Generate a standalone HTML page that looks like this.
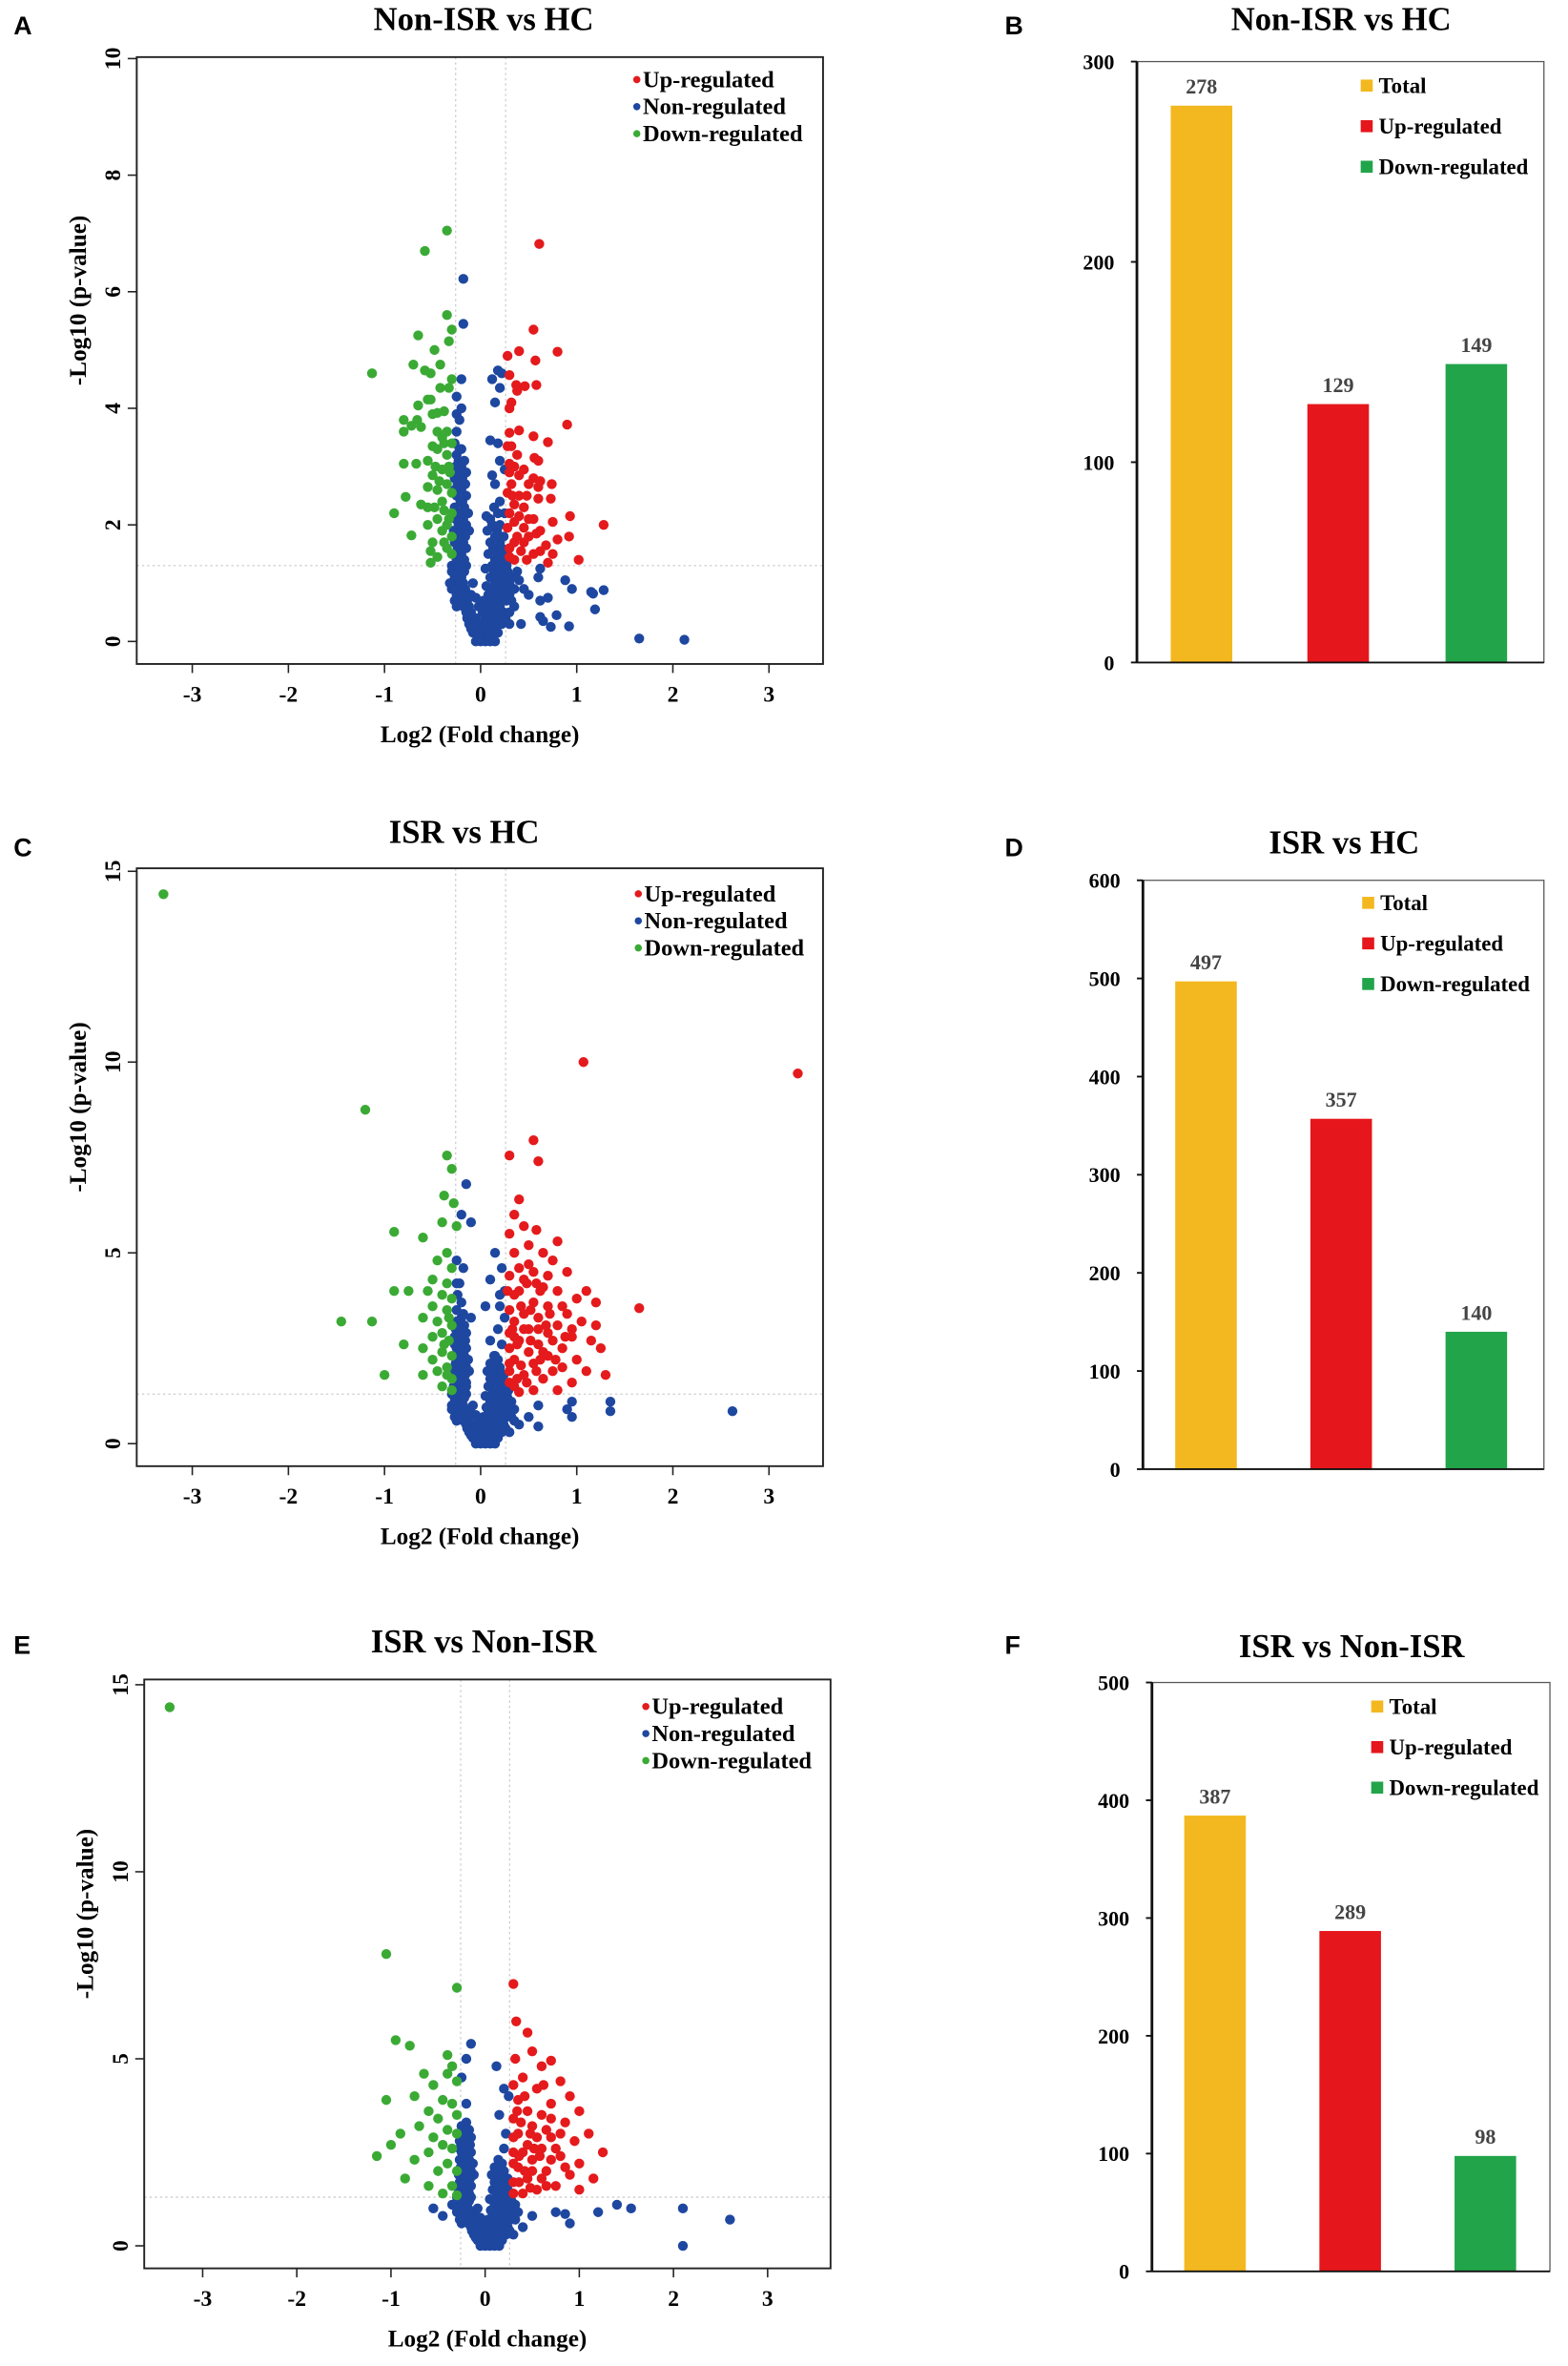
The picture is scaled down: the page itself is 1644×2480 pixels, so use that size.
<!DOCTYPE html>
<html><head><meta charset="utf-8"><style>
html,body{margin:0;padding:0;background:#fff;}
svg{display:block;}
text{font-family:"Liberation Serif",serif;font-weight:bold;}
.lt{font-family:"Liberation Sans",sans-serif;font-weight:bold;}
</style></head><body>
<svg id="fig" xmlns="http://www.w3.org/2000/svg" width="1644" height="2480" viewBox="0 0 1044 1575"></svg>
<script>
// ---------- shared data ----------
const coreBlob=[0,0,-0.05,0,0.05,0,0.1,0,0.15,0,-0.08,0.15,-0.02,0.15,0.04,0.15,0.12,0.15,0.18,0.15,-0.12,0.3,-0.06,0.3,0.02,0.3,0.08,0.3,0.15,0.3,0.22,0.3,-0.15,0.5,-0.1,0.5,0.1,0.5,0.16,0.5,0.24,0.5,-0.2,0.7,-0.14,0.7,0.12,0.7,0.2,0.7,0.27,0.7,-0.23,0.9,-0.16,0.9,0.13,0.9,0.2,0.9,0.28,0.9,-0.27,1.1,-0.2,1.1,0.1,1.1,0.18,1.1,0.25,1.1,0.32,1.1,-0.3,1.3,-0.22,1.3,-0.15,1.3,0.12,1.3,0.2,1.3,0.27,1.3,-0.28,1.5,-0.2,1.5,0.08,1.5,0.18,1.5,0.24,1.5,-0.27,1.7,-0.18,1.7,0.1,1.7,0.2,1.7,-0.28,1.9,-0.2,1.9,-0.12,1.9,0.07,1.9,0.17,1.9,-0.26,2.1,-0.18,2.1,0.1,2.1,-0.27,2.3,-0.17,2.3,0.14,2.3,-0.25,2.5,-0.15,2.5,-0.24,2.7,-0.16,2.7,-0.22,2.9,-0.15,2.9,-0.23,3.1,-0.17,3.1,-0.2,3.3,-0.3,1.0,0.35,0.9,-0.1,0.8,0.08,0.8,-0.05,0.4,0.05,0.6,-0.2,1.2,0.22,1.2,0.3,0.3,-0.25,0.6];
const coreFill=[-0.03,0.08,0.08,0.08,-0.1,0.22,0,0.22,0.08,0.22,0.15,0.22,-0.14,0.4,-0.08,0.4,0.05,0.4,0.12,0.4,0.19,0.4,0.26,0.4,-0.18,0.6,-0.12,0.6,0.08,0.6,0.14,0.6,0.2,0.6,-0.21,0.8,-0.15,0.8,-0.25,0.8,0.16,0.8,0.24,0.8,0.3,0.8,-0.24,1.0,-0.18,1.0,0.15,1.0,0.22,1.0,0.3,1.0,-0.27,1.2,-0.17,1.2,0.14,1.2,0.28,1.2,-0.25,1.4,-0.17,1.4,0.15,1.4,0.22,1.4,0.29,1.4,-0.24,1.6,-0.15,1.6,0.13,1.6,0.22,1.6,-0.24,1.8,-0.16,1.8,0.15,1.8,0.24,1.8,-0.23,2.0,-0.15,2.0,0.12,2.0,0.2,2.0,-0.22,2.2,-0.13,2.2,0.18,2.2,-0.21,2.4,-0.19,2.4,-0.2,2.6,-0.27,2.6,-0.19,2.8,-0.27,2.8,-0.2,3.0,-0.26,3.0,-0.25,3.2,-0.3,0.9,0.33,0.9,0.32,0.7,-0.27,0.7,0.02,0.5,-0.02,0.6,0.03,0.7,-0.05,0.75,0.06,0.95,-0.08,1.0,0.05,1.25];

// Panel A
const aGreen=[-0.35,7.05,-0.58,6.7,-0.35,5.6,-0.3,5.35,-0.65,5.25,-0.33,5.15,-0.48,5.0,-1.13,4.6,-0.7,4.75,-0.42,4.75,-0.58,4.65,-0.52,4.6,-0.3,4.5,-0.42,4.35,-0.33,4.35,-0.55,4.15,-0.52,4.15,-0.65,4.05,-0.45,3.92,-0.5,3.9,-0.38,3.95,-0.8,3.8,-0.66,3.8,-0.72,3.7,-0.62,3.68,-0.8,3.6,-0.45,3.6,-0.35,3.6,-0.4,3.5,-0.5,3.35,-0.3,3.4,-0.45,3.3,-0.35,3.2,-0.8,3.05,-0.67,3.05,-0.55,3.1,-0.47,3.0,-0.4,2.95,-0.32,2.9,-0.5,2.85,-0.43,2.75,-0.35,2.7,-0.55,2.65,-0.45,2.6,-0.3,2.55,-0.78,2.48,-0.62,2.35,-0.55,2.3,-0.48,2.3,-0.38,2.25,-0.3,2.2,-0.9,2.2,-0.45,2.1,-0.55,2.0,-0.35,2.0,-0.4,1.9,-0.3,1.8,-0.72,1.82,-0.5,1.7,-0.35,1.6,-0.52,1.55,-0.45,1.45,-0.3,1.5,-0.52,1.35,-0.38,3.4,-0.33,3.0,-0.4,2.4,-0.33,2.1,-0.38,1.7];
const aRed=[0.61,6.82,0.55,5.35,0.8,4.97,0.4,4.98,0.28,4.9,0.57,4.82,0.3,4.57,0.37,4.4,0.46,4.38,0.58,4.4,0.38,4.3,0.32,4.1,0.3,4.0,0.9,3.72,0.3,3.58,0.4,3.62,0.55,3.52,0.7,3.42,0.28,3.35,0.32,3.35,0.56,3.15,0.6,3.1,0.3,3.05,0.35,3.0,0.45,2.95,0.3,2.9,0.4,2.85,0.55,2.8,0.62,2.75,0.74,2.7,0.32,2.7,0.5,2.7,0.6,2.65,0.28,2.55,0.4,2.5,0.6,2.45,0.73,2.45,0.35,2.35,0.45,2.3,0.3,2.2,0.4,2.15,0.5,2.1,0.55,2.1,0.93,2.15,0.35,2.05,0.75,2.05,0.28,1.95,0.45,1.95,0.62,1.9,0.58,1.85,0.38,1.8,0.5,1.8,0.68,1.65,0.8,1.75,0.92,1.8,1.28,2.0,0.3,1.6,0.42,1.55,0.55,1.5,0.62,1.55,0.75,1.5,1.02,1.4,0.35,1.4,0.48,1.4,0.7,1.35,0.3,1.45,0.35,1.7,0.45,1.7,0.33,2.5,0.48,2.5,0.38,3.2];
const aBlue=[-0.18,6.22,-0.18,5.45,-0.2,4.5,0.18,4.65,0.22,4.6,0.12,4.5,0.2,4.35,0.15,4.1,-0.2,4.0,-0.25,4.2,-0.25,3.9,-0.25,3.6,0.1,3.45,0.18,3.4,0.2,3.1,0.25,2.95,0.15,2.7,0.12,2.85,0.2,2.4,0.25,2.2,0.06,2.15,0.12,2.0,0.62,1.25,0.6,1.1,0.88,1.05,0.95,0.9,1.15,0.85,1.17,0.82,1.28,0.88,0.7,0.75,0.62,0.7,0.5,0.8,0.45,0.9,0.4,1.05,1.19,0.55,0.79,0.45,0.62,0.42,0.65,0.35,0.73,0.25,0.92,0.26,0.42,0.3,1.65,0.05,2.12,0.03,0.35,0.6,0.3,0.5,-0.22,3.3,-0.27,3.4,-0.22,3.8,-0.3,1.2,-0.32,1.0,0.38,1.2];

// Panel C
const cGreen=[-3.3,14.4,-1.2,8.75,-0.35,7.55,-0.3,7.2,-0.38,6.5,-0.28,6.3,-0.4,5.8,-0.25,5.7,-0.9,5.55,-0.6,5.4,-0.35,5.0,-0.45,4.8,-0.3,4.6,-0.5,4.3,-0.35,4.2,-0.9,4.0,-0.75,4.0,-0.55,4.0,-0.4,3.9,-0.3,3.8,-0.5,3.6,-0.35,3.5,-1.45,3.2,-1.13,3.2,-0.6,3.3,-0.45,3.2,-0.3,3.1,-0.4,2.9,-0.5,2.8,-0.33,2.7,-0.8,2.6,-0.6,2.5,-0.4,2.4,-0.3,2.3,-0.5,2.2,-0.35,2.0,-0.45,1.9,-1.0,1.8,-0.6,1.8,-0.3,1.7,-0.4,1.5,-0.3,1.4,-0.33,3.3,-0.38,2.6,-0.35,1.8];
const cRed=[1.07,10.0,3.3,9.7,0.55,7.95,0.3,7.55,0.6,7.4,0.4,6.4,0.35,6.0,0.45,5.7,0.58,5.6,0.3,5.5,0.8,5.3,0.5,5.2,0.65,5.0,0.35,5.0,0.75,4.8,0.4,4.6,0.55,4.5,0.9,4.5,0.3,4.4,0.48,4.2,0.65,4.1,0.8,4.0,1.1,4.0,0.35,3.9,1.0,3.8,1.2,3.7,0.55,3.7,1.65,3.55,0.7,3.6,0.3,3.5,0.45,3.4,0.9,3.4,0.6,3.3,1.05,3.2,0.35,3.2,0.8,3.1,1.2,3.1,0.5,3.0,0.7,2.9,0.3,2.9,0.95,2.8,1.15,2.7,0.4,2.7,0.6,2.6,0.85,2.5,0.3,2.5,1.25,2.5,0.5,2.4,0.7,2.3,1.0,2.2,0.35,2.2,0.55,2.1,0.85,2.0,1.1,1.9,0.3,1.9,0.45,1.8,0.65,1.7,0.95,1.6,0.35,1.5,0.55,1.4,0.8,1.4,1.3,1.8,0.4,1.35,0.3,1.6,0.42,2.05,0.38,2.6,0.45,3.0,0.52,3.5,0.62,2.2,0.75,2.7,0.48,1.6,0.58,1.9,0.68,3.1,0.28,4.0,0.33,3.0,0.4,4.0,0.5,4.7,0.62,4.0,0.85,3.6,0.95,3.0,0.75,1.9,0.3,2.1,0.38,1.7,0.35,2.8,0.42,3.6,0.52,2.7,0.6,3.0,0.65,2.4,0.72,3.4,0.78,2.2,0.88,2.8,0.45,4.3,0.58,4.2,0.7,4.4];
const cBlue=[-0.15,6.8,-0.2,6.0,-0.1,5.8,0.15,5.0,0.22,4.6,-0.18,4.6,-0.22,4.2,0.1,4.3,0.25,4.0,-0.25,4.8,0.2,3.6,-0.2,3.7,-0.25,3.5,0.25,3.3,0.18,3.0,-0.22,3.0,-0.2,2.6,0.22,2.6,0.15,2.3,-0.25,2.3,0.2,1.9,-0.15,1.5,0.18,1.5,1.35,1.1,1.35,0.85,0.95,1.1,0.9,0.9,0.95,0.7,0.6,1.0,0.5,0.7,0.4,0.5,2.62,0.85,0.6,0.45,0.3,1.0,0.35,0.6,-0.25,4.2,-0.1,3.3,0.1,2.7,0.05,3.6,-0.24,3.9,-0.18,3.4,0.2,3.9];

// Panel E
const eGreen=[-3.35,14.4,-1.05,7.8,-0.3,6.9,-0.95,5.5,-0.8,5.35,-0.4,5.1,-0.35,4.8,-0.65,4.6,-0.4,4.6,-0.3,4.4,-0.55,4.3,-1.05,3.9,-0.75,4.0,-0.45,3.9,-0.35,3.8,-0.3,3.5,-0.6,3.6,-0.5,3.4,-0.7,3.2,-0.4,3.1,-0.9,3.0,-0.3,3.0,-0.55,2.9,-0.45,2.7,-1.0,2.7,-0.35,2.6,-0.6,2.5,-1.15,2.4,-0.75,2.3,-0.4,2.2,-0.3,2.0,-0.5,2.0,-0.85,1.8,-0.35,1.6,-0.6,1.6,-0.45,1.4,-0.3,1.35];
const eRed=[0.3,7.0,0.33,6.0,0.45,5.7,0.5,5.2,0.32,5.0,0.7,4.95,0.6,4.8,0.4,4.5,0.8,4.4,0.3,4.3,0.55,4.2,0.9,4.0,0.35,3.9,0.7,3.8,0.45,3.6,1.0,3.6,0.6,3.5,0.3,3.4,0.85,3.3,0.5,3.2,1.1,3.0,0.35,3.0,0.7,2.9,0.95,2.8,0.45,2.7,0.6,2.6,0.3,2.5,1.25,2.5,0.8,2.4,0.5,2.3,1.0,2.2,0.35,2.1,0.65,2.0,0.9,1.9,0.45,1.8,1.15,1.8,0.3,1.7,0.75,1.6,0.55,1.5,1.0,1.5,0.4,1.4,0.3,2.2,0.4,2.5,0.5,2.0,0.6,1.8,0.7,2.3,0.38,3.3,0.55,2.9,0.65,3.1,0.75,2.6,0.85,2.1,0.3,1.4,0.48,1.55,0.58,2.4,0.42,4.0,0.62,4.3,0.8,3.0,0.3,2.9,0.36,1.7,0.36,2.4,0.42,2.0,0.48,3.0,0.52,2.6,0.65,1.6,0.7,3.4,0.34,3.6];
const eBlue=[-0.15,5.4,-0.2,5.0,0.12,4.8,-0.25,4.5,0.2,4.2,0.25,4.0,-0.2,3.8,0.15,3.5,-0.25,3.2,0.22,3.0,-0.22,2.8,0.2,2.6,-0.18,2.4,0.15,2.2,1.4,1.1,1.55,1.0,2.1,1.0,2.6,0.7,2.1,0.0,1.2,0.9,0.85,0.85,0.9,0.6,0.75,0.9,0.5,0.8,-0.55,1.0,-0.45,0.8,0.4,0.5,0.3,1.1,-0.35,1.1];

// Bar data
const barCategories=["Total","Up-regulated","Down-regulated"];
const bValues=[278,129,149];
const dValues=[497,357,140];
const fValues=[387,289,98];
const bTicks=[0,100,200,300];
const dTicks=[0,100,200,300,400,500,600];
const fTicks=[0,100,200,300,400,500];
const volXTicks=[-3,-2,-1,0,1,2,3];
const aYTicks=[0,2,4,6,8,10];
const cYTicks=[0,5,10,15];
const eYTicks=[0,5,10,15];
const fcCut=0.26, pCut=1.3;

// ---------- drawing ----------
const NS="http://www.w3.org/2000/svg";
const svg=document.getElementById('fig');
function mk(tag,attrs,parent){const e=document.createElementNS(NS,tag);for(const k in attrs)e.setAttribute(k,attrs[k]);(parent||svg).appendChild(e);return e;}
function txt(s,attrs,parent){const t=mk('text',attrs,parent);t.textContent=s;return t;}
const COL={red:"#E41A1C",blue:"#1E47A0",green:"#3AAA35"};
const BCOL=["#F3B81F","#E5161C","#22A44A"];

function volcano(id,letter,lx,ly,title,tx,ty,box,x0,xs,y0,ys,yTicks,ymax,blue,red,green,legX,legY){
  const g=mk('g',{});
  
  
  const X=v=>x0+xs*v, Y=v=>y0-ys*v;
  const pl=txt(letter,{x:lx,y:ly,'font-size':17,class:'lt'},g);
  
  const ti=txt(title,{x:tx,y:ty,'font-size':22,'text-anchor':'middle'},g);
  
  [-fcCut,fcCut].forEach(c=>{const l=mk('line',{x1:X(c),x2:X(c),y1:box.t,y2:box.b,stroke:'#ccc','stroke-width':0.8,'stroke-dasharray':'1.5,2'},g);
    });
  const hl=mk('line',{x1:box.l,x2:box.r,y1:Y(pCut),y2:Y(pCut),stroke:'#ccc','stroke-width':0.8,'stroke-dasharray':'1.5,2'},g);
  
  const pts=mk('g',{},g);
  
  function dots(arr,c,nm){for(let i=0;i<arr.length;i+=2){const d=mk('circle',{cx:X(arr[i]),cy:Y(arr[i+1]),r:3.3,fill:c},pts);
    }}
  dots(coreBlob,COL.blue,'non-regulated-point');
  dots(coreFill,COL.blue,'non-regulated-point');
  dots(blue,COL.blue,'non-regulated-point');
  dots(green,COL.green,'down-regulated-point');
  dots(red,COL.red,'up-regulated-point');
  const fr=mk('rect',{x:box.l,y:box.t,width:box.r-box.l,height:box.b-box.t,fill:'none',stroke:'#222','stroke-width':1.2},g);
  
  volXTicks.forEach(v=>{mk('line',{x1:X(v),x2:X(v),y1:box.b,y2:box.b+6,stroke:'#222','stroke-width':1},g);
    const t=txt(String(v),{x:X(v),y:box.b+25,'font-size':15,'text-anchor':'middle'},g);
    });
  mk('line',{x1:box.l,x2:box.l,y1:Y(0),y2:Y(ymax),stroke:'#222','stroke-width':1},g);
  yTicks.forEach(v=>{mk('line',{x1:box.l-6,x2:box.l,y1:Y(v),y2:Y(v),stroke:'#222','stroke-width':1},g);
    const t=txt(String(v),{x:0,y:0,'font-size':15,'text-anchor':'middle',transform:`translate(${box.l-11},${Y(v)}) rotate(-90)`},g);
    });
  const xt=txt('Log2 (Fold change)',{x:(box.l+box.r)/2,y:box.b+52,'font-size':16,'text-anchor':'middle'},g);
  
  const yt=txt('-Log10 (p-value)',{x:0,y:0,'font-size':16,'text-anchor':'middle',transform:`translate(${box.l-34},${(box.t+box.b)/2-40}) rotate(-90)`},g);
  
  const lg=[["Up-regulated",COL.red],["Non-regulated",COL.blue],["Down-regulated",COL.green]];
  lg.forEach((e,i)=>{const y=legY+i*18;
    const c=mk('circle',{cx:legX,cy:y-4,r:2.4,fill:e[1]},g);
    const t=txt(e[0],{x:legX+4,y:y+1,'font-size':15.5},g);});
}

function bars(id,letter,lx,ly,title,tx,ty,axX,right,top,bottom,max,ticks,vals,centers,legX,legY){
  const g=mk('g',{});
  
  
  const Y=v=>bottom-(bottom-top)*v/max;
  const pl=txt(letter,{x:lx,y:ly,'font-size':17,class:'lt'},g);
  
  const ti=txt(title,{x:tx,y:ty,'font-size':22,'text-anchor':'middle'},g);
  
  const fr=mk('rect',{x:axX,y:top,width:right-axX,height:bottom-top,fill:'none',stroke:'#555','stroke-width':0.8},g);
  
  vals.forEach((v,i)=>{const w=41;
    const r=mk('rect',{x:centers[i]-w/2,y:Y(v),width:w,height:bottom-Y(v),fill:BCOL[i]},g);
    
    const t=txt(String(v),{x:centers[i],y:Y(v)-8,'font-size':14,'text-anchor':'middle',fill:'#444'},g);
    });
  mk('line',{x1:axX,x2:axX,y1:top,y2:bottom,stroke:'#111','stroke-width':1.8},g);
  mk('line',{x1:axX,x2:right,y1:bottom,y2:bottom,stroke:'#111','stroke-width':1.2},g);
  ticks.forEach(v=>{mk('line',{x1:axX-4,x2:axX,y1:Y(v),y2:Y(v),stroke:'#111','stroke-width':1.2},g);
    const t=txt(String(v),{x:axX-15,y:Y(v)+5,'font-size':14,'text-anchor':'end'},g);
    });
  barCategories.forEach((c,i)=>{const y=legY+i*27;
    const s=mk('rect',{x:legX,y:y-10,width:8,height:8,fill:BCOL[i]},g);
    const t=txt(c,{x:legX+12,y:y-1,'font-size':14.5},g);});
}

volcano('a','A',9,23,'Non-ISR vs HC',322,20,{l:91,r:548,t:38,b:442},320,64,427,38.8,aYTicks,10,aBlue,aRed,aGreen,424,57);
volcano('c','C',9,570,'ISR vs HC',309,561,{l:91,r:548,t:578,b:976},320,64,961,25.4,cYTicks,15,cBlue,cRed,cGreen,425,599);
volcano('e','E',9,1101,'ISR vs Non-ISR',322,1100,{l:96,r:553,t:1118,b:1510},323,62.7,1495,24.9,eYTicks,15,eBlue,eRed,eGreen,430,1140);
bars('b','B',669,23,'Non-ISR vs HC',893,20,757,1028,41,441,300,bTicks,bValues,[800,891,983],906,63);
bars('d','D',669,570,'ISR vs HC',895,568,761,1028,586,978,600,dTicks,dValues,[803,893,983],907,607);
bars('f','F',669,1101,'ISR vs Non-ISR',900,1103,767,1032,1120,1512,500,fTicks,fValues,[809,899,989],913,1142);
</script>
</body></html>
